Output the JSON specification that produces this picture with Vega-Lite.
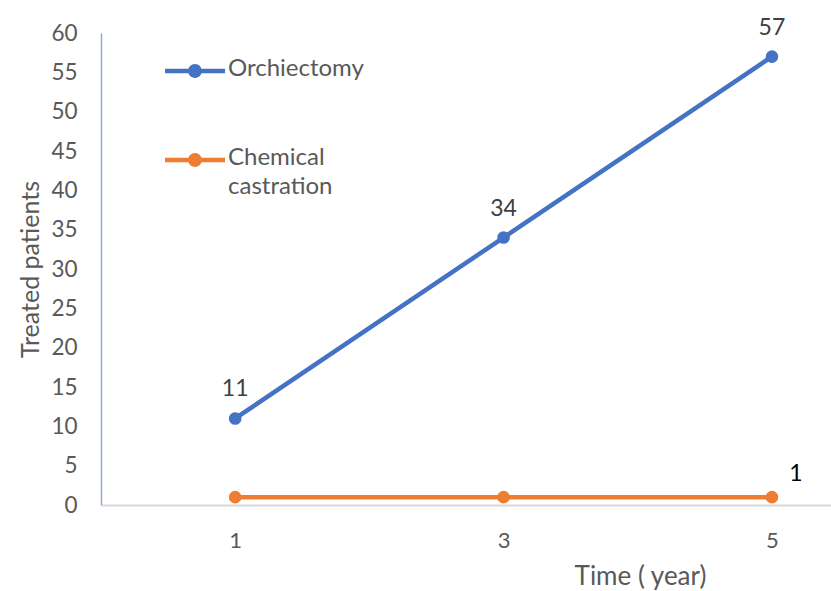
{
  "$schema": "https://vega.github.io/schema/vega-lite/v6.json",
  "width": 730,
  "height": 472,
  "autosize": "none",
  "padding": {"left": 101, "top": 33, "right": 0, "bottom": 86},
  "background": "white",
  "config": {
    "view": {"stroke": null},
    "font": "Lato",
    "axis": {"grid": false, "ticks": false, "labelFont": "Lato", "titleFont": "Lato", "labelColor": "#595959", "titleColor": "#595959", "titleFontWeight": "normal"}
  },
  "data": {
    "values": [
      {"time": 1, "series": "Orchiectomy", "patients": 11},
      {"time": 3, "series": "Orchiectomy", "patients": 34},
      {"time": 5, "series": "Orchiectomy", "patients": 57},
      {"time": 1, "series": "Chemical castration", "patients": 1},
      {"time": 3, "series": "Chemical castration", "patients": 1},
      {"time": 5, "series": "Chemical castration", "patients": 1}
    ]
  },
  "encoding": {
    "x": {
      "field": "time", "type": "quantitative",
      "scale": {"domain": [0, 5.44], "nice": false, "zero": false},
      "axis": {"values": [1, 3, 5], "title": "Time ( year)", "labelFontSize": 22, "labelPadding": 25, "domainColor": "#d9d9d9", "domainWidth": 2, "titleFontSize": 26, "titleX": 539, "titleY": 71, "titleAlign": "center", "titleBaseline": "middle"}
    },
    "y": {
      "field": "patients", "type": "quantitative",
      "scale": {"domain": [0, 60], "nice": false},
      "axis": {"values": [0, 5, 10, 15, 20, 25, 30, 35, 40, 45, 50, 55, 60], "title": "Treated patients", "labelFontSize": 22.5, "labelPadding": 24, "domainColor": "#8eaadb", "domainWidth": 1.5, "titleFontSize": 25, "titleX": -71, "titleY": 236, "titleAngle": -90, "titleAlign": "center", "titleBaseline": "middle"}
    }
  },
  "layer": [
    {
      "mark": {"type": "line", "strokeWidth": 4.5},
      "encoding": {
        "color": {
          "field": "series", "type": "nominal",
          "scale": {"domain": ["Orchiectomy", "Chemical castration"], "range": ["#4472C4", "#ED7D31"]},
          "legend": {
            "title": null, "orient": "none", "legendX": 64, "legendY": 8,
            "symbolType": "M-1,-0.075H1V0.075H-1Z M-0.23,0A0.23,0.23 0 1,1 0.23,0A0.23,0.23 0 1,1 -0.23,0Z",
            "symbolSize": 3600, "symbolStrokeWidth": 0,
            "labelFontSize": 24, "labelColor": "#595959", "labelOffset": 3,
            "labelBaseline": "top",
            "labelExpr": "datum.label == 'Chemical castration' ? ['Chemical', 'castration'] : datum.label",
            "rowPadding": 49, "labelLimit": 300,
            "encode": {
              "symbols": {"update": {"fill": {"scale": "color", "field": "value"}, "stroke": {"value": "transparent"}}},
              "labels": {"update": {"dy": {"value": -14}, "lineHeight": {"value": 29}}}
            }
          }
        }
      }
    },
    {
      "mark": {"type": "point", "filled": true, "size": 160, "opacity": 1},
      "encoding": {
        "color": {"field": "series", "type": "nominal", "legend": null}
      }
    },
    {
      "transform": [{"filter": "datum.series == 'Orchiectomy'"}],
      "mark": {"type": "text", "dy": -29, "fontSize": 23, "color": "#404040"},
      "encoding": {"text": {"field": "patients", "type": "quantitative"}}
    },
    {
      "transform": [{"filter": "datum.series == 'Chemical castration' && datum.time == 5"}],
      "mark": {"type": "text", "dx": 24, "dy": -23, "fontSize": 23, "color": "#000000"},
      "encoding": {"text": {"field": "patients", "type": "quantitative"}}
    }
  ]
}
